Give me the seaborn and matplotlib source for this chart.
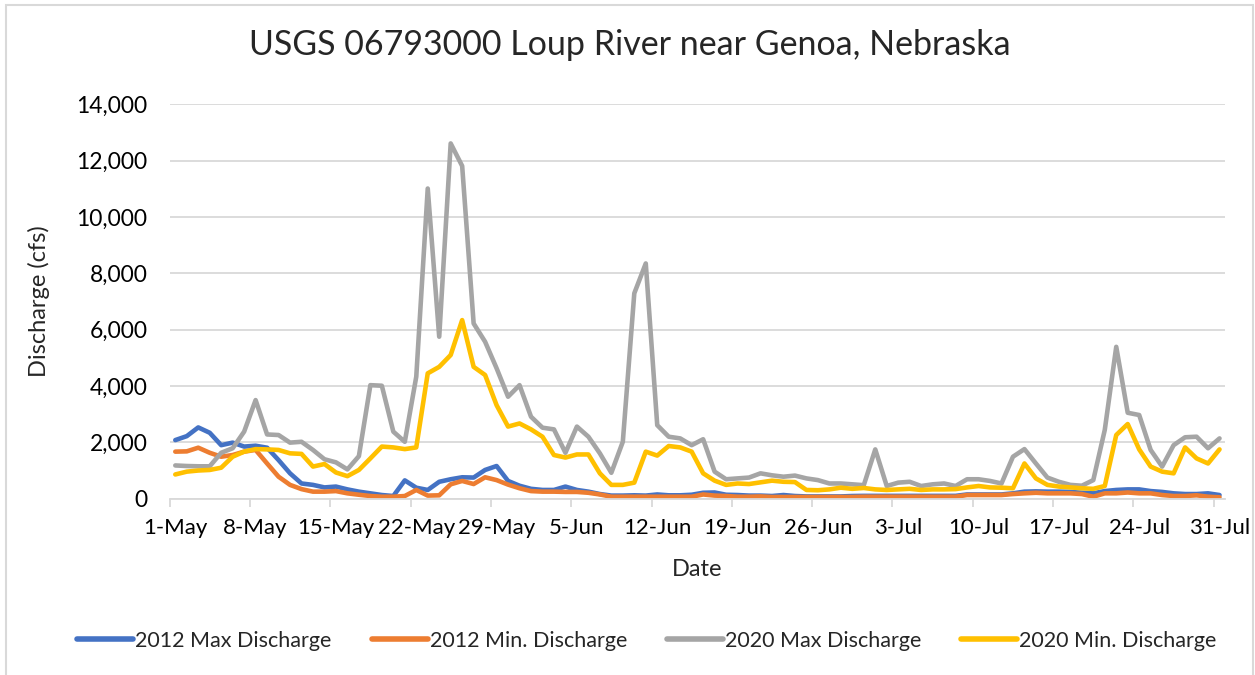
import numpy as np
import pandas as pd
import matplotlib.pyplot as plt
from matplotlib.patches import Rectangle
from matplotlib.ticker import FuncFormatter, MultipleLocator, FixedLocator
import seaborn as sns

# daily values, 1-May .. 31-Jul (cfs)
dates = pd.date_range("2020-05-01", "2020-07-31", freq="D")

max_2012 = [2080, 2220, 2530, 2340, 1900, 1990, 1850, 1880, 1810, 1370,
            900, 540, 490, 400, 430, 330, 250, 190, 130, 95,
            650, 390, 310, 600, 690, 760, 750, 1020, 1160, 630,
            460, 350, 310, 310, 430, 310, 250, 165, 110, 110,
            120, 110, 150, 120, 120, 140, 210, 220, 140, 130,
            110, 110, 95, 130, 95, 80, 80, 80, 80, 95,
            100, 100, 100, 100, 100, 100, 100, 100, 100, 150,
            150, 150, 150, 190, 250, 260, 250, 250, 240, 210,
            190, 270, 310, 330, 330, 270, 240, 190, 165, 165,
            190, 130]
min_2012 = [1670, 1680, 1810, 1630, 1490, 1550, 1670, 1730, 1250, 780,
            490, 340, 250, 250, 270, 190, 140, 95, 70, 70,
            95, 310, 110, 120, 510, 630, 520, 760, 660, 500,
            370, 270, 250, 250, 240, 240, 210, 150, 70, 70,
            70, 70, 70, 70, 70, 70, 150, 110, 95, 70,
            70, 80, 60, 60, 60, 60, 60, 60, 60, 60,
            70, 70, 70, 70, 70, 70, 70, 70, 70, 130,
            130, 130, 130, 165, 190, 210, 190, 190, 190, 165,
            70, 190, 190, 220, 190, 190, 130, 95, 95, 120,
            70, 50]
max_2020 = [1180, 1160, 1150, 1150, 1630, 1790, 2380, 3500, 2280, 2260,
            1990, 2020, 1730, 1400, 1290, 1040, 1510, 4030, 4010, 2380,
            2020, 4330, 11010, 5750, 12610, 11810, 6220, 5570, 4630, 3620,
            4030, 2910, 2520, 2460, 1630, 2560, 2200, 1610, 920, 2020,
            7290, 8350, 2610, 2200, 2140, 1900, 2110, 960, 690, 720,
            750, 900, 830, 780, 820, 720, 660, 540, 540, 510,
            480, 1750, 450, 570, 600, 450, 510, 540, 450, 690,
            690, 630, 540, 1490, 1760, 1250, 750, 600, 490, 460,
            660, 2440, 5390, 3050, 2970, 1730, 1140, 1900, 2180, 2200,
            1790, 2140]
min_2020 = [860, 960, 1000, 1020, 1100, 1490, 1670, 1760, 1750, 1730,
            1610, 1590, 1140, 1230, 930, 800, 1020, 1430, 1850, 1820,
            1760, 1820, 4450, 4680, 5100, 6340, 4680, 4390, 3320, 2560,
            2670, 2460, 2200, 1550, 1460, 1570, 1570, 900, 490, 490,
            570, 1670, 1530, 1870, 1820, 1670, 900, 640, 490, 540,
            520, 580, 640, 600, 590, 310, 300, 330, 390, 350,
            380, 330, 310, 330, 350, 310, 330, 330, 340, 400,
            450, 400, 390, 370, 1250, 720, 490, 430, 400, 370,
            350, 450, 2260, 2650, 1750, 1140, 960, 900, 1820, 1430,
            1250, 1750]

series_names = ["2012 Max Discharge", "2012 Min. Discharge",
                "2020 Max Discharge", "2020 Min. Discharge"]
colors = ["#4472C4", "#ED7D31", "#A5A5A5", "#FFC000"]
grid_col = "#D9D9D9"

sns.set_style("white")
plt.rcParams["font.family"] = ["Lato", "DejaVu Sans"]

day = np.arange(len(dates))
df = pd.DataFrame({
    "day": np.tile(day, 4),
    "cfs": np.concatenate([max_2012, min_2012, max_2020, min_2020]),
    "series": np.repeat(series_names, len(dates)),
})

fig = plt.figure(figsize=(12.55, 6.75), dpi=100)
ax = fig.add_axes([0.1351, 0.2612, 0.8412, 0.5843])

sns.lineplot(data=df, x="day", y="cfs", hue="series", hue_order=series_names,
             palette=colors, linewidth=3.3, ax=ax,
             solid_joinstyle="round", solid_capstyle="round")

# axes look like the Excel original
ax.set_xlim(-0.5, len(dates) - 0.5)
ax.set_ylim(0, 14000)
ax.yaxis.set_major_locator(MultipleLocator(2000))
ax.yaxis.set_major_formatter(FuncFormatter(lambda v, p: f"{int(v):,}"))
ax.grid(axis="y", color=grid_col, linewidth=1.3)
ax.set_axisbelow(True)
for s in ["top", "right", "left"]:
    ax.spines[s].set_visible(False)
ax.spines["bottom"].set_color(grid_col)
ax.spines["bottom"].set_linewidth(1.3)

label_pos = day[::7]
ax.xaxis.set_major_locator(FixedLocator(label_pos))
ax.set_xticklabels([f"{d.day}-{d:%b}" for d in dates[::7]])
ax.xaxis.set_minor_locator(FixedLocator(label_pos - 0.5))
ax.tick_params(axis="x", which="major", length=0, pad=14, labelsize=16, colors="#000000")
ax.tick_params(axis="x", which="minor", length=6, width=1.3, color=grid_col, bottom=True)
ax.tick_params(axis="y", length=0, pad=16, labelsize=16.5, colors="#000000")

ax.set_xlabel("Date", fontsize=17, labelpad=15)
ax.set_ylabel("Discharge (cfs)", fontsize=17, labelpad=19)

fig.text(0.502, 1 - 45 / 675, "USGS 06793000 Loup River near Genoa, Nebraska",
         ha="center", va="center", fontsize=24.5)

handles, labels = ax.get_legend_handles_labels()
ax.get_legend().remove()
leg = fig.legend(handles, labels, ncol=4, loc="center",
                 bbox_to_anchor=(0.5155, 1 - 641 / 675), frameon=False,
                 fontsize=15.5, handlelength=2.6, handletextpad=0.1,
                 columnspacing=1.85)
for h in leg.get_lines():
    h.set_linewidth(4)

# chart border
fig.patches.append(Rectangle((6 / 1255, -0.02), 1247 / 1255, 1 - 5 / 675 + 0.02,
                             transform=fig.transFigure, fill=False,
                             edgecolor=grid_col, linewidth=1.5))

fig.savefig("out.png", dpi=100)
